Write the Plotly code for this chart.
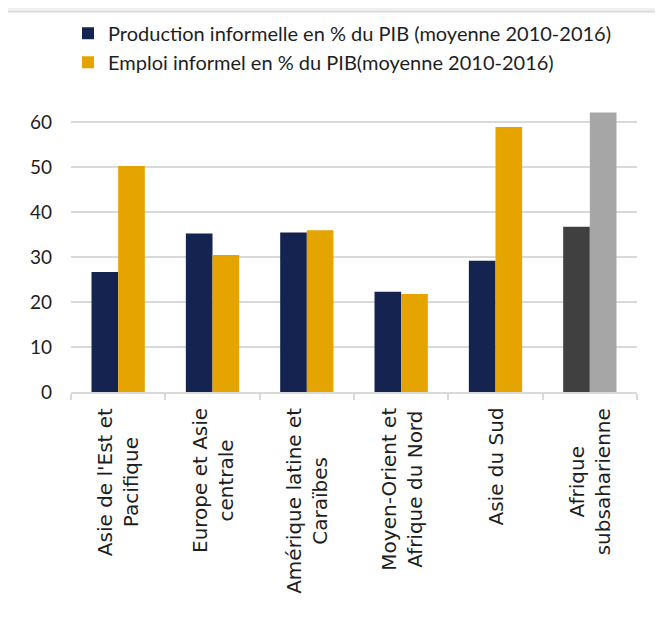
import plotly.graph_objects as go

categories = [
    "Asie de l'Est et<br>Pacifique",
    "Europe et Asie<br>centrale",
    "Amérique latine et<br>Caraïbes",
    "Moyen-Orient et<br>Afrique du Nord",
    "Asie du Sud",
    "Afrique<br>subsaharienne",
]
production_informelle = [26.7, 35.3, 35.5, 22.3, 29.2, 36.8]
emploi_informel = [50.3, 30.5, 36.0, 21.8, 59.0, 62.2]
y_ticks = [0, 10, 20, 30, 40, 50, 60]

navy = "#14234F"
orange = "#E6A400"
dark_grey = "#404040"
light_grey = "#A6A6A6"

prod_colors = [navy] * 5 + [dark_grey]
emp_colors = [orange] * 5 + [light_grey]

FONT = "Lato"
LABEL_FONT = "DejaVu Sans"
TXT = "#1E1E1E"

fig = go.Figure()
fig.add_trace(go.Bar(
    x=categories, y=production_informelle,
    name="Production informelle en % du PIB (moyenne 2010-2016)",
    marker=dict(color=prod_colors, line=dict(width=0)),
))
fig.add_trace(go.Bar(
    x=categories, y=emploi_informel,
    name="Emploi informel en % du PIB(moyenne 2010-2016)",
    marker=dict(color=emp_colors, line=dict(width=0)),
))

annotations = [
    dict(
        x=c, xref="x", y=0, yref="paper",
        text=c, showarrow=False, textangle=-90,
        xanchor="center", yanchor="top", yshift=-14, align="center",
        font=dict(family=LABEL_FONT, size=20, color=TXT),
    )
    for c in categories
]

fig.update_layout(
    width=663, height=625,
    margin=dict(l=63, r=33.5, t=101.4, b=240.6, pad=0, autoexpand=False),
    paper_bgcolor="#EFEFEF",
    plot_bgcolor="rgba(0,0,0,0)",
    barmode="group",
    bargap=0.435,
    bargroupgap=0,
    font=dict(family=FONT, color=TXT, size=19),
    showlegend=True,
    legend=dict(
        x=-0.0053, y=1.337, xanchor="left", yanchor="top",
        bgcolor="rgba(0,0,0,0)",
        font=dict(family=FONT, size=20, color=TXT),
        tracegroupgap=0,
    ),
    annotations=annotations,
    shapes=[dict(
        type="rect", xref="paper", yref="paper",
        x0=-0.113, x1=1.2, y0=-1.5, y1=1.344,
        fillcolor="white", line=dict(color="#D9D9D9", width=1.5),
        layer="below",
    )],
    xaxis=dict(
        automargin=False,
        showline=True, linecolor="#D9D9D9", linewidth=1.5,
        ticks="outside", tickson="boundaries", ticklen=6, tickcolor="#D9D9D9", tickwidth=1.5,
        showticklabels=False,
        showgrid=False,
    ),
    yaxis=dict(
        automargin=False,
        range=[0, 63],
        tickvals=y_ticks,
        showgrid=True, gridcolor="#D9D9D9", gridwidth=1.5,
        zeroline=False,
        showline=False,
        ticks="",
        tickfont=dict(family=FONT, size=19, color=TXT),
        ticklabelstandoff=18,
    ),
)

fig.write_html("out.html")
